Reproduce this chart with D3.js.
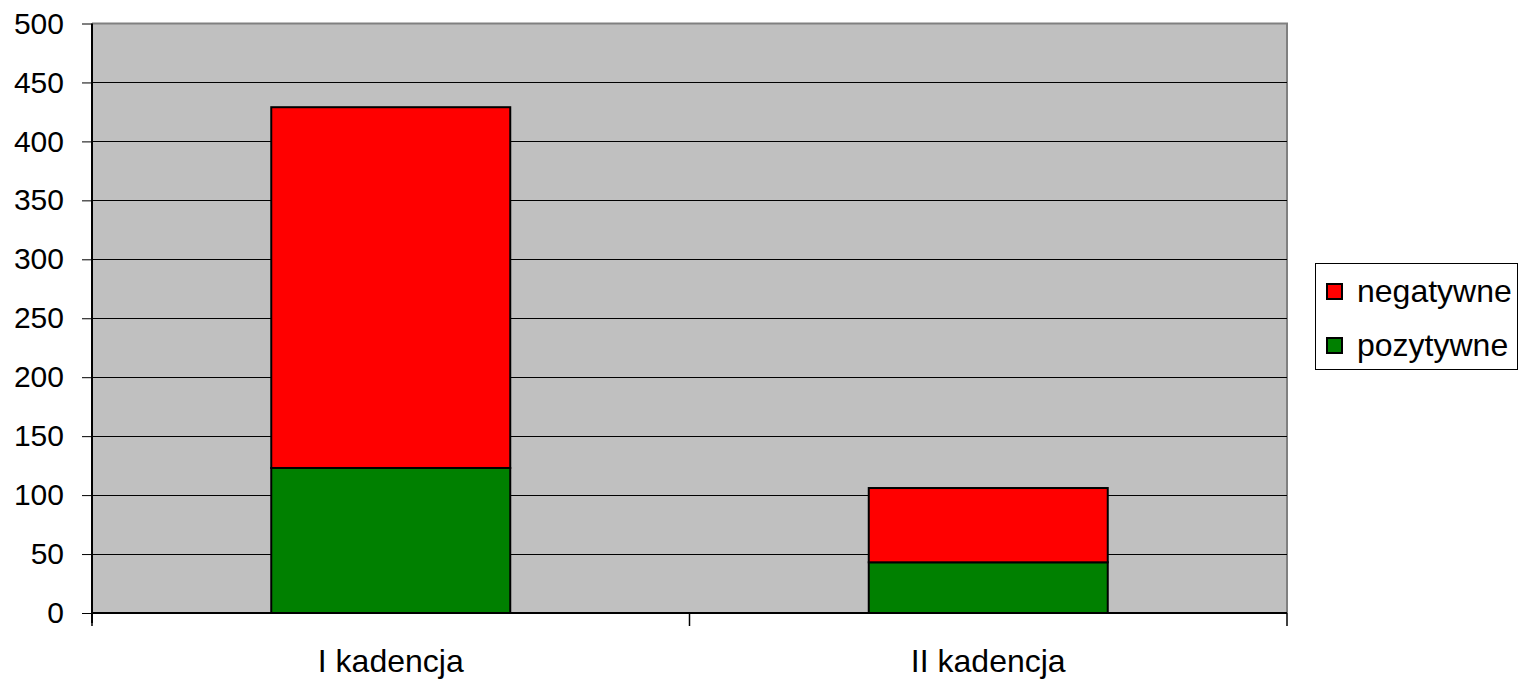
<!DOCTYPE html>
<html><head><meta charset="utf-8">
<script src="https://cdn.jsdelivr.net/npm/d3@7"></script>
<style>body{margin:0;background:#fff;font-family:"Liberation Sans",Arial,sans-serif;}</style>
</head><body>
<svg id="c" width="1519" height="680"></svg>
<script>
const categories = ["I kadencja", "II kadencja"];
const seriesNames = ["pozytywne", "negatywne"];
const pozytywne = [123, 43];
const negatywne = [306, 63];
const yTicks = [0, 50, 100, 150, 200, 250, 300, 350, 400, 450, 500];
const colors = {pozytywne: "#008000", negatywne: "#ff0000"};

const svg = d3.select("#c");
const L = 92, R = 1287, T = 23.5, B = 613;
const x = d3.scaleBand().domain(categories).range([L, R]).paddingInner(0).paddingOuter(0);
const y = d3.scaleLinear().domain([0, 500]).range([B, T]);

svg.append("rect").attr("x", L).attr("y", T).attr("width", R - L).attr("height", B - T)
  .attr("fill", "#c0c0c0");
svg.append("path").attr("d", `M${L},${T}H${R}V${B}`).attr("fill", "none").attr("stroke", "#808080").attr("stroke-width", 2);

svg.append("g").selectAll("line").data(yTicks.filter(d => d > 0 && d < 500)).join("line")
  .attr("x1", L).attr("x2", R).attr("y1", d => Math.round(y(d)) + 0.5).attr("y2", d => Math.round(y(d)) + 0.5)
  .attr("stroke", "#000").attr("stroke-width", 1);

const data = categories.map((c, i) => ({cat: c, pozytywne: pozytywne[i], negatywne: negatywne[i]}));
const stack = d3.stack().keys(seriesNames)(data);
const bw = x.bandwidth() * 0.4;
svg.append("g").selectAll("g").data(stack).join("g")
  .attr("fill", d => colors[d.key])
  .selectAll("rect").data(d => d).join("rect")
  .attr("x", d => x(d.data.cat) + (x.bandwidth() - bw) / 2)
  .attr("width", bw)
  .attr("y", d => y(d[1]))
  .attr("height", d => y(d[0]) - y(d[1]))
  .attr("stroke", "#000").attr("stroke-width", 2);

const yAxis = d3.axisLeft(y).tickValues(yTicks).tickSize(10).tickPadding(18);
const ga = svg.append("g").attr("transform", `translate(${L},0)`).call(yAxis);
ga.select(".domain").attr("stroke", "#000").attr("stroke-width", 2).attr("d", `M0,${T}V${B + 10}`);
ga.selectAll(".tick line").attr("stroke", "#000");
ga.selectAll("text").attr("font-size", 30).attr("fill", "#000").attr("font-family", "Liberation Sans, Arial, sans-serif");

const gx = svg.append("g").attr("transform", `translate(0,${B})`);
gx.append("line").attr("x1", L).attr("x2", R).attr("y1", 0).attr("y2", 0).attr("stroke", "#000").attr("stroke-width", 2);
const bounds = [L].concat(categories.map(c => x(c) + x.bandwidth()));
gx.selectAll(".bt").data(bounds).join("line").attr("class", "bt")
  .attr("x1", d => d).attr("x2", d => d).attr("y1", 0).attr("y2", 13).attr("stroke", "#000").attr("stroke-width", 1.5);
gx.selectAll("text").data(categories).join("text")
  .attr("x", d => x(d) + x.bandwidth() / 2).attr("y", 59)
  .attr("text-anchor", "middle").attr("font-size", 32).attr("fill", "#000").text(d => d);

const lg = svg.append("g");
lg.append("rect").attr("x", 1315.5).attr("y", 263.5).attr("width", 202).attr("height", 106)
  .attr("fill", "#fff").attr("stroke", "#000").attr("stroke-width", 1);
const legendItems = ["negatywne", "pozytywne"];
legendItems.forEach((k, i) => {
  const cy = 292 + i * 54;
  lg.append("rect").attr("x", 1327).attr("y", cy - 8).attr("width", 15).attr("height", 15)
    .attr("fill", colors[k]).attr("stroke", "#000").attr("stroke-width", 2);
  lg.append("text").attr("x", 1357).attr("y", cy + 10).attr("font-size", 32).attr("fill", "#000").text(k);
});
</script>
</body></html>
